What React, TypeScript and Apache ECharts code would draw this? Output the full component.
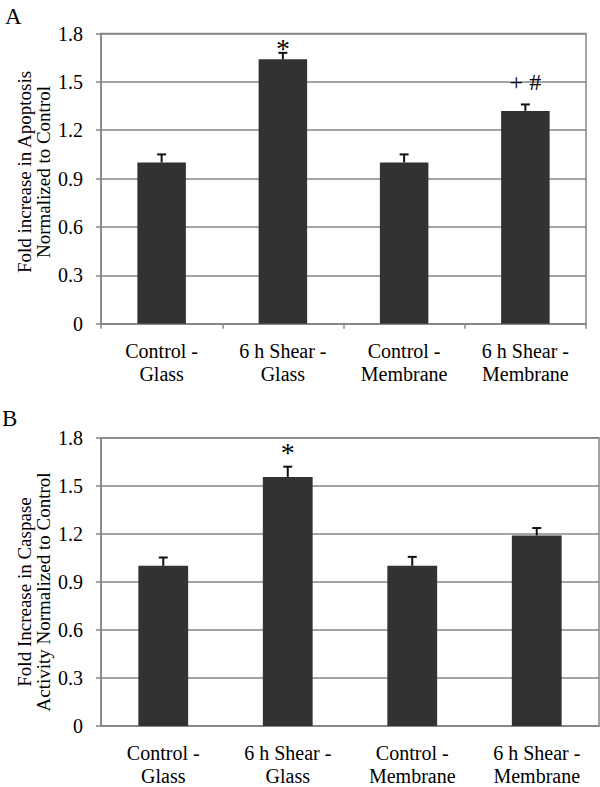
import React, { useEffect, useRef } from "react";
import * as echarts from "echarts";

const categories = ["Control -\nGlass", "6 h Shear -\nGlass", "Control -\nMembrane", "6 h Shear -\nMembrane"];
const yTickInterval = 0.3;
const yMax = 1.8;

const apoptosisMean = [1.0, 1.64, 1.0, 1.32];
const apoptosisErr = [0.05, 0.04, 0.05, 0.04];
const apoptosisMarks = ["", "*", "", "+ #"];
const apoptosisMarkY = [0, 1.705, 0, 1.50];

const caspaseMean = [1.0, 1.555, 1.0, 1.19];
const caspaseErr = [0.052, 0.064, 0.056, 0.046];
const caspaseMarks = ["", "*", "", ""];
const caspaseMarkY = [0, 1.71, 0, 0];

const panelLetters = ["A", "B"];
const yTitles = ["Fold increase in Apoptosis\nNormalized to Control", "Fold Increase in Caspase\nActivity Normalized to Control"];

const FONT = "'Liberation Serif', 'Times New Roman', serif";
const GRAY = "#868686";
const BAR = "#323232";

export default function App() {
  const ref = useRef<HTMLDivElement>(null);
  useEffect(() => {
    if (!ref.current) return;
    const chart = echarts.init(ref.current, null, { renderer: "svg" });

    const grids = [
      { left: 101, right: 14, top: 33.5, height: 290.2 },
      { left: 101, right: 1, top: 437.7, height: 288.6 },
    ];

    const xAxis = grids.map((_, i) => ({
      type: "category",
      gridIndex: i,
      data: categories,
      boundaryGap: true,
      axisLine: { show: true, lineStyle: { color: GRAY, width: 1.5 } },
      axisTick: { show: i === 0, length: 5, interval: 0, lineStyle: { color: GRAY, width: 1.5 } },
      axisLabel: {
        interval: 0,
        margin: i === 0 ? 16 : 15,
        color: "#000",
        fontFamily: FONT,
        fontSize: 20,
        lineHeight: 23,
      },
    }));

    const yAxis = grids.map((_, i) => ({
      type: "value",
      gridIndex: i,
      min: 0,
      max: yMax,
      interval: yTickInterval,
      axisLine: { show: true, lineStyle: { color: GRAY, width: 1.5 } },
      axisTick: { show: true, length: 5, lineStyle: { color: GRAY, width: 1.5 } },
      splitLine: { show: true, lineStyle: { color: GRAY, width: 1.5 } },
      axisLabel: { color: "#000", fontFamily: FONT, fontSize: 20, margin: 18 },
    }));

    const errSeries = (idx: number, mean: number[], err: number[]) => ({
      type: "custom",
      xAxisIndex: idx,
      yAxisIndex: idx,
      z: 5,
      data: mean.map((m, i) => [i, m, m + err[i]]),
      renderItem: (params: any, api: any) => {
        const c = api.value(0);
        const p0 = api.coord([c, api.value(1)]);
        const p1 = api.coord([c, api.value(2)]);
        const hw = 4.5;
        return {
          type: "group",
          children: [
            { type: "line", shape: { x1: p0[0], y1: p0[1], x2: p1[0], y2: p1[1] }, style: { stroke: "#111", lineWidth: 2 } },
            { type: "line", shape: { x1: p1[0] - hw, y1: p1[1], x2: p1[0] + hw, y2: p1[1] }, style: { stroke: "#111", lineWidth: 2 } },
          ],
        };
      },
    });

    const markSeries = (idx: number, marks: string[], ys: number[]) => ({
      type: "custom",
      xAxisIndex: idx,
      yAxisIndex: idx,
      z: 6,
      data: marks.map((m, i) => [i, ys[i], m]).filter((d) => d[2] !== ""),
      renderItem: (params: any, api: any) => {
        const c = api.value(0);
        const p = api.coord([c, api.value(1)]);
        const txt = String(api.value(2));
        return {
          type: "text",
          x: p[0],
          y: p[1],
          style: {
            text: txt,
            align: "center",
            verticalAlign: "middle",
            fill: "#000",
            font: `${txt === "*" ? 28 : 24}px ${FONT}`,
          },
        };
      },
    });

    const barSeries = (idx: number, mean: number[]) => ({
      type: "bar",
      xAxisIndex: idx,
      yAxisIndex: idx,
      data: mean,
      barWidth: "40%",
      itemStyle: { color: BAR },
      z: 4,
    });

    chart.setOption({
      animation: false,
      backgroundColor: "#fff",
      grid: grids.map((g) => ({ ...g, show: true, borderColor: GRAY, borderWidth: 1.5, backgroundColor: "transparent" })),
      xAxis,
      yAxis,
      series: [
        barSeries(0, apoptosisMean),
        errSeries(0, apoptosisMean, apoptosisErr),
        markSeries(0, apoptosisMarks, apoptosisMarkY),
        barSeries(1, caspaseMean),
        errSeries(1, caspaseMean, caspaseErr),
        markSeries(1, caspaseMarks, caspaseMarkY),
      ],
      graphic: [
        { type: "text", x: 5, y: 16, style: { text: panelLetters[0], font: `23px ${FONT}`, fill: "#000", verticalAlign: "middle" } },
        { type: "text", x: 2, y: 418, style: { text: panelLetters[1], font: `23px ${FONT}`, fill: "#000", verticalAlign: "middle" } },
        {
          type: "text", x: 34, y: 172, rotation: Math.PI / 2,
          style: { text: yTitles[0], font: `19px ${FONT}`, lineHeight: 19, fill: "#000", align: "center", verticalAlign: "middle" },
        },
        {
          type: "text", x: 34, y: 592, rotation: Math.PI / 2,
          style: { text: yTitles[1], font: `19px ${FONT}`, lineHeight: 19, fill: "#000", align: "center", verticalAlign: "middle" },
        },
      ],
    });
    return () => chart.dispose();
  }, []);
  return <div ref={ref} style={{ position: "fixed", left: 0, top: 0, width: 600, height: 787, background: "#fff" }} />;
}
